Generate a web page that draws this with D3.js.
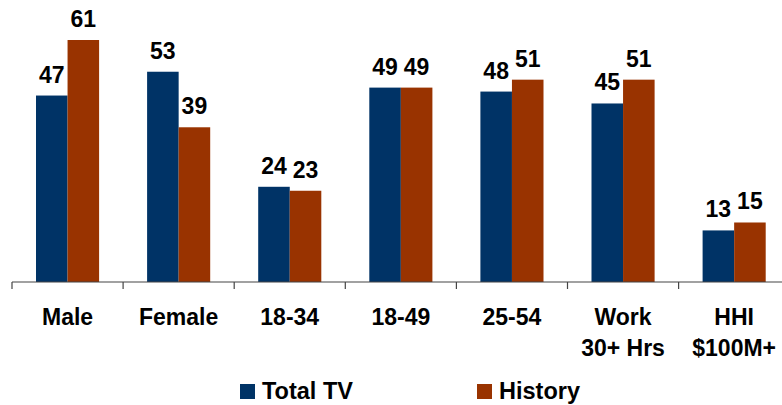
<!DOCTYPE html>
<html>
<head>
<meta charset="utf-8">
<script src="https://cdn.jsdelivr.net/npm/d3@7"></script>
<style>
  body { margin: 0; background: #fff; }
  text { font-family: "Liberation Sans", Arial, sans-serif; font-weight: bold; fill: #000; }
</style>
</head>
<body>
<script>
const categories = [['Male'], ['Female'], ['18-34'], ['18-49'], ['25-54'], ['Work', '30+ Hrs'], ['HHI', '$100M+']];
const seriesNames = ['Total TV', 'History'];
const totalTV = [47, 53, 24, 49, 48, 45, 13];
const history = [61, 39, 23, 49, 51, 51, 15];
const colors = ['#003366', '#993300'];

const width = 782;
const height = 405;
const svg = d3.select('body').append('svg')
    .attr('width', width)
    .attr('height', height);

const baseline = 282;

// one band per category, ~111px each starting at x=12
const x = d3.scaleBand()
    .domain(d3.range(categories.length))
    .range([12, 12 + 111.1 * categories.length])
    .paddingInner(0)
    .paddingOuter(0);

const inner = d3.scaleBand()
    .domain([0, 1])
    .range([24, x.bandwidth() - 24]);

const y = d3.scaleLinear().domain([0, 61]).range([baseline, 40]);

const data = categories.map((c, i) => [totalTV[i], history[i]]);

const groups = svg.selectAll('g.cat')
    .data(data)
    .enter()
    .append('g')
    .attr('class', 'cat')
    .attr('transform', (d, i) => `translate(${x(i)},0)`);

groups.selectAll('rect')
    .data(d => d)
    .enter()
    .append('rect')
    .attr('x', (d, j) => inner(j))
    .attr('width', inner.bandwidth())
    .attr('y', d => y(d))
    .attr('height', d => baseline - y(d))
    .attr('fill', (d, j) => colors[j]);

groups.selectAll('text.val')
    .data(d => d)
    .enter()
    .append('text')
    .attr('class', 'val')
    .attr('x', (d, j) => inner(j) + inner.bandwidth() / 2)
    .attr('y', d => y(d) - 13)
    .attr('text-anchor', 'middle')
    .style('font-size', '23px')
    .text(d => d);

// axis line with ticks at category boundaries
const axis = svg.append('g');
axis.append('line')
    .attr('x1', 12).attr('x2', width)
    .attr('y1', baseline).attr('y2', baseline)
    .attr('stroke', '#444').attr('stroke-width', 1.2);
axis.selectAll('line.tick')
    .data(d3.range(categories.length))
    .enter()
    .append('line')
    .attr('class', 'tick')
    .attr('x1', i => x(i)).attr('x2', i => x(i))
    .attr('y1', baseline).attr('y2', baseline + 7)
    .attr('stroke', '#444').attr('stroke-width', 1.2);

// category labels
svg.selectAll('text.cat')
    .data(categories)
    .enter()
    .append('text')
    .attr('class', 'cat')
    .attr('text-anchor', 'middle')
    .attr('x', (d, i) => x(i) + x.bandwidth() / 2)
    .attr('y', 325)
    .style('font-size', '23px')
    .selectAll('tspan')
    .data(d => d)
    .enter()
    .append('tspan')
    .attr('x', function() { return this.parentNode.getAttribute('x'); })
    .attr('dy', (d, k) => k === 0 ? 0 : 31)
    .text(d => d);

// legend
const legendX = [240, 477];
const legend = svg.selectAll('g.legend')
    .data(seriesNames)
    .enter()
    .append('g')
    .attr('class', 'legend')
    .attr('transform', (d, i) => `translate(${legendX[i]},384)`);
legend.append('rect')
    .attr('width', 15).attr('height', 15)
    .attr('fill', (d, i) => colors[i]);
legend.append('text')
    .attr('x', 22).attr('y', 15)
    .style('font-size', '23.5px')
    .text(d => d);
</script>
</body>
</html>
